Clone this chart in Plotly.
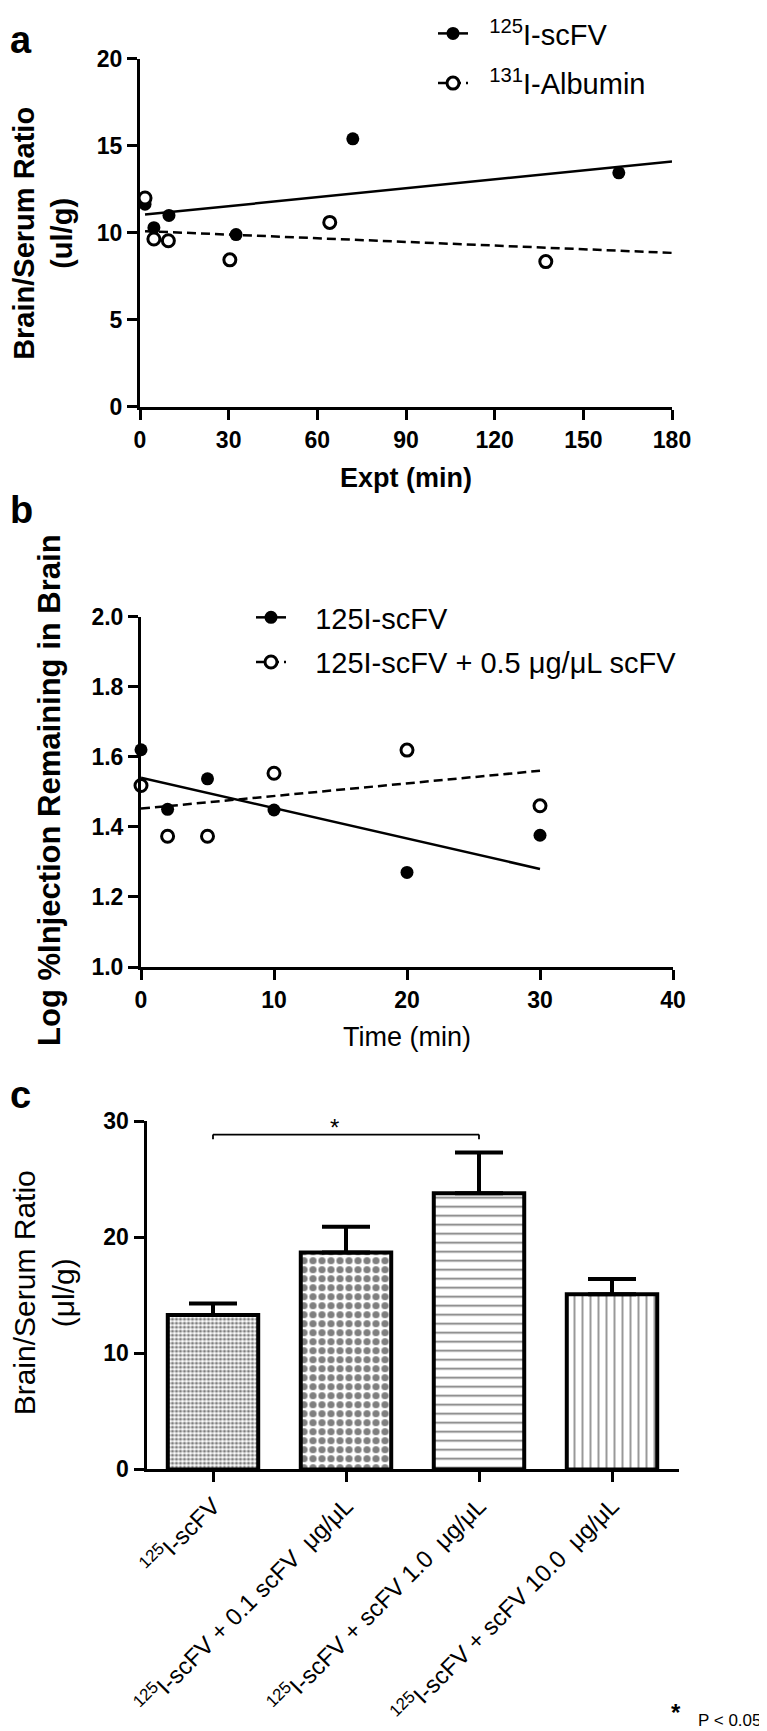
import plotly.graph_objects as go

# ---- panel a: brain/serum ratio vs exposure time ----
a_scfv_t = [1.7, 4.7, 9.8, 32.5, 72, 162]
a_scfv_ratio = [11.65, 10.3, 11.0, 9.9, 15.4, 13.45]
a_alb_t = [1.7, 4.7, 9.6, 30.4, 64.2, 137.3]
a_alb_ratio = [12.0, 9.65, 9.55, 8.45, 10.6, 8.35]
a_fit_t = [1.7, 180]
a_scfv_fit = [11.05, 14.1]
a_alb_fit = [10.1, 8.85]

# ---- panel b: log % injection remaining in brain vs time ----
b_t = [0, 2, 5, 10, 20, 30]
b_scfv = [1.62, 1.45, 1.537, 1.448, 1.27, 1.376]
b_scfv_block = [1.518, 1.373, 1.373, 1.553, 1.619, 1.46]
b_fit_t = [0, 30]
b_scfv_fit = [1.54, 1.28]
b_block_fit = [1.452, 1.56]

# ---- panel c: bars ----
c_labels = [
    "<sup>125</sup>I-scFV",
    "<sup>125</sup>I-scFV + 0.1 scFV  \u03bcg/\u03bcL",
    "<sup>125</sup>I-scFV + scFV 1.0  \u03bcg/\u03bcL",
    "<sup>125</sup>I-scFV + scFV 10.0  \u03bcg/\u03bcL",
]
c_mean = [13.3, 18.7, 23.8, 15.1]
c_sem = [1.0, 2.2, 3.5, 1.3]
sig_pair = (0, 2)
sig_y = 28.85

W, H = 767, 1731
FONT = "Liberation Sans, Arial, sans-serif"
NB = "\u00a0"  # keeps the gap between legend key and text


def px_x(p):
    return p / W


def px_y(p):
    return 1 - p / H


fig = go.Figure()

# panel a
fig.add_trace(go.Scatter(x=a_fit_t, y=a_scfv_fit, mode="lines", xaxis="x", yaxis="y",
                         line=dict(color="black", width=2.5), showlegend=False, legendgroup="a1"))
fig.add_trace(go.Scatter(x=a_fit_t, y=a_alb_fit, mode="lines", xaxis="x", yaxis="y",
                         line=dict(color="black", width=2.5, dash="9px,5px"), showlegend=False, legendgroup="a2"))
fig.add_trace(go.Scatter(x=a_scfv_t, y=a_scfv_ratio, mode="markers", xaxis="x", yaxis="y",
                         marker=dict(color="black", size=13), cliponaxis=False,
                         showlegend=False, legendgroup="a1"))
fig.add_trace(go.Scatter(x=a_alb_t, y=a_alb_ratio, mode="markers", xaxis="x", yaxis="y",
                         marker=dict(color="white", size=12, line=dict(color="black", width=3)),
                         cliponaxis=False, showlegend=False, legendgroup="a2"))
# legend keys for panel a
fig.add_trace(go.Scatter(x=[None], y=[None], mode="lines+markers", name=NB * 2 + "<sup>125</sup>I-scFV",
                         xaxis="x", yaxis="y", legend="legend", legendgroup="a1",
                         line=dict(color="black", width=2.5), marker=dict(color="black", size=13)))
fig.add_trace(go.Scatter(x=[None], y=[None], mode="lines+markers", name=NB * 2 + "<sup>131</sup>I-Albumin",
                         xaxis="x", yaxis="y", legend="legend", legendgroup="a2",
                         line=dict(color="black", width=2.5, dash="9px,5px"),
                         marker=dict(color="white", size=12, line=dict(color="black", width=3))))

# panel b
fig.add_trace(go.Scatter(x=b_fit_t, y=b_scfv_fit, mode="lines", xaxis="x2", yaxis="y2",
                         line=dict(color="black", width=2.5), showlegend=False))
fig.add_trace(go.Scatter(x=b_fit_t, y=b_block_fit, mode="lines", xaxis="x2", yaxis="y2",
                         line=dict(color="black", width=2.5, dash="9px,5px"), showlegend=False))
fig.add_trace(go.Scatter(x=b_t, y=b_scfv, mode="markers", xaxis="x2", yaxis="y2",
                         marker=dict(color="black", size=13), cliponaxis=False, showlegend=False))
fig.add_trace(go.Scatter(x=b_t, y=b_scfv_block, mode="markers", xaxis="x2", yaxis="y2",
                         marker=dict(color="white", size=12, line=dict(color="black", width=3)),
                         cliponaxis=False, showlegend=False))
fig.add_trace(go.Scatter(x=[None], y=[None], mode="lines+markers", name=NB * 3 + "125I-scFV",
                         xaxis="x2", yaxis="y2", legend="legend2", legendgroup="b1",
                         line=dict(color="black", width=2.5), marker=dict(color="black", size=13)))
fig.add_trace(go.Scatter(x=[None], y=[None], mode="lines+markers",
                         name=NB * 3 + "125I-scFV + 0.5 \u03bcg/\u03bcL scFV",
                         xaxis="x2", yaxis="y2", legend="legend2", legendgroup="b2",
                         line=dict(color="black", width=2.5, dash="9px,5px"),
                         marker=dict(color="white", size=12, line=dict(color="black", width=3))))

# panel c
fig.add_trace(go.Bar(
    x=c_labels, y=c_mean, xaxis="x3", yaxis="y3", showlegend=False,
    marker=dict(
        color="white",
        line=dict(color="black", width=4),
        pattern=dict(shape=[".", ".", "-", "|"], size=[4, 9, 9, 8],
                     solidity=[0.5, 0.5, 0.2, 0.2], fgcolor="black", bgcolor="white"),
    ),
    error_y=dict(type="data", array=c_sem, arrayminus=[0] * len(c_sem), symmetric=False,
                 color="black", thickness=4, width=24),
))

axis_common = dict(showline=True, linecolor="black", linewidth=3, ticks="outside",
                   ticklen=10, tickwidth=3, tickcolor="black", showgrid=False, zeroline=False,
                   automargin=False,
                   tickfont=dict(family=FONT, size=23, color="black", weight="bold"))

fig.update_layout(
    width=W, height=H,
    margin=dict(l=0, r=0, t=0, b=0),
    paper_bgcolor="white", plot_bgcolor="white",
    font=dict(family=FONT, color="black"),
    bargap=0.32,
    xaxis=dict(domain=[px_x(132), px_x(664)], range=[0, 180], dtick=30, anchor="y", **axis_common),
    yaxis=dict(domain=[px_y(392), px_y(42)], range=[0, 20], dtick=5, anchor="x", **axis_common),
    xaxis2=dict(domain=[px_x(133), px_x(665)], range=[0, 40], dtick=10, anchor="y2", **axis_common),
    yaxis2=dict(domain=[px_y(955), px_y(602.7)], range=[1.0, 2.0], dtick=0.2, tickformat=".1f",
                anchor="x2", **axis_common),
    xaxis3=dict(domain=[px_x(138.5), px_x(670.5)], range=[-0.5, 3.5], anchor="y3",
                tickangle=-45, **{k: v for k, v in axis_common.items() if k != "tickfont"},
                tickfont=dict(family=FONT, size=24, color="black")),
    yaxis3=dict(domain=[px_y(1460), px_y(1110)], range=[0, 30], dtick=10, anchor="x3", **axis_common),
    legend=dict(x=px_x(425), y=px_y(-9), xanchor="left", yanchor="top", bgcolor="rgba(0,0,0,0)",
                font=dict(family=FONT, size=29, color="black"), tracegroupgap=9),
    legend2=dict(x=px_x(243), y=px_y(578), xanchor="left", yanchor="top", bgcolor="rgba(0,0,0,0)",
                 font=dict(family=FONT, size=29, color="black"), tracegroupgap=4),
)

# significance bracket
lab0, lab1 = c_labels[sig_pair[0]], c_labels[sig_pair[1]]
fig.add_shape(type="line", xref="x3", yref="y3", x0=lab0, x1=lab1, y0=sig_y, y1=sig_y,
              line=dict(color="black", width=1.8))
for lab in (lab0, lab1):
    fig.add_shape(type="line", xref="x3", yref="y3", x0=lab, x1=lab, y0=sig_y, y1=sig_y - 0.4,
                  line=dict(color="black", width=1.8))
fig.add_annotation(x=(sig_pair[0] + sig_pair[1]) / 2, y=sig_y, xref="x3", yref="y3",
                   text="*", showarrow=False, yanchor="bottom", xshift=-12, yshift=-8,
                   font=dict(family=FONT, size=24, color="black"))

annos = [
    dict(text="<b>a</b>", x=0, y=1, xanchor="left", yanchor="top", size=38),
    dict(text="<b>b</b>", x=0, y=px_y(472), xanchor="left", yanchor="top", size=38),
    dict(text="<b>c</b>", x=0, y=px_y(1061), xanchor="left", yanchor="top", size=38),
    dict(text="<b>Brain/Serum Ratio<br>(ul/g)</b>", x=px_x(35), y=px_y(218), angle=-90, size=29),
    dict(text="<b>Expt (min)</b>", x=px_x(398), y=px_y(463), size=27),
    dict(text="<b>Log %Injection Remaining in Brain</b>", x=px_x(42), y=px_y(777), angle=-90, size=31),
    dict(text="Time (min)", x=px_x(399), y=px_y(1025), size=27),
    dict(text="Brain/Serum Ratio<br>(\u03bcl/g)", x=px_x(36), y=px_y(1283), angle=-90, size=30),
    dict(text="<b>*</b>", x=px_x(668), y=px_y(1704), size=24),
    dict(text="P < 0.05", x=px_x(688), y=px_y(1712), xanchor="left", size=17),
]
for a in annos:
    fig.add_annotation(text=a["text"], x=a["x"], y=a["y"], xref="paper", yref="paper",
                       showarrow=False, textangle=a.get("angle", 0),
                       xanchor=a.get("xanchor", "center"), yanchor=a.get("yanchor", "middle"),
                       font=dict(family=FONT, size=a["size"], color="black"))

fig.write_html("out.html")
